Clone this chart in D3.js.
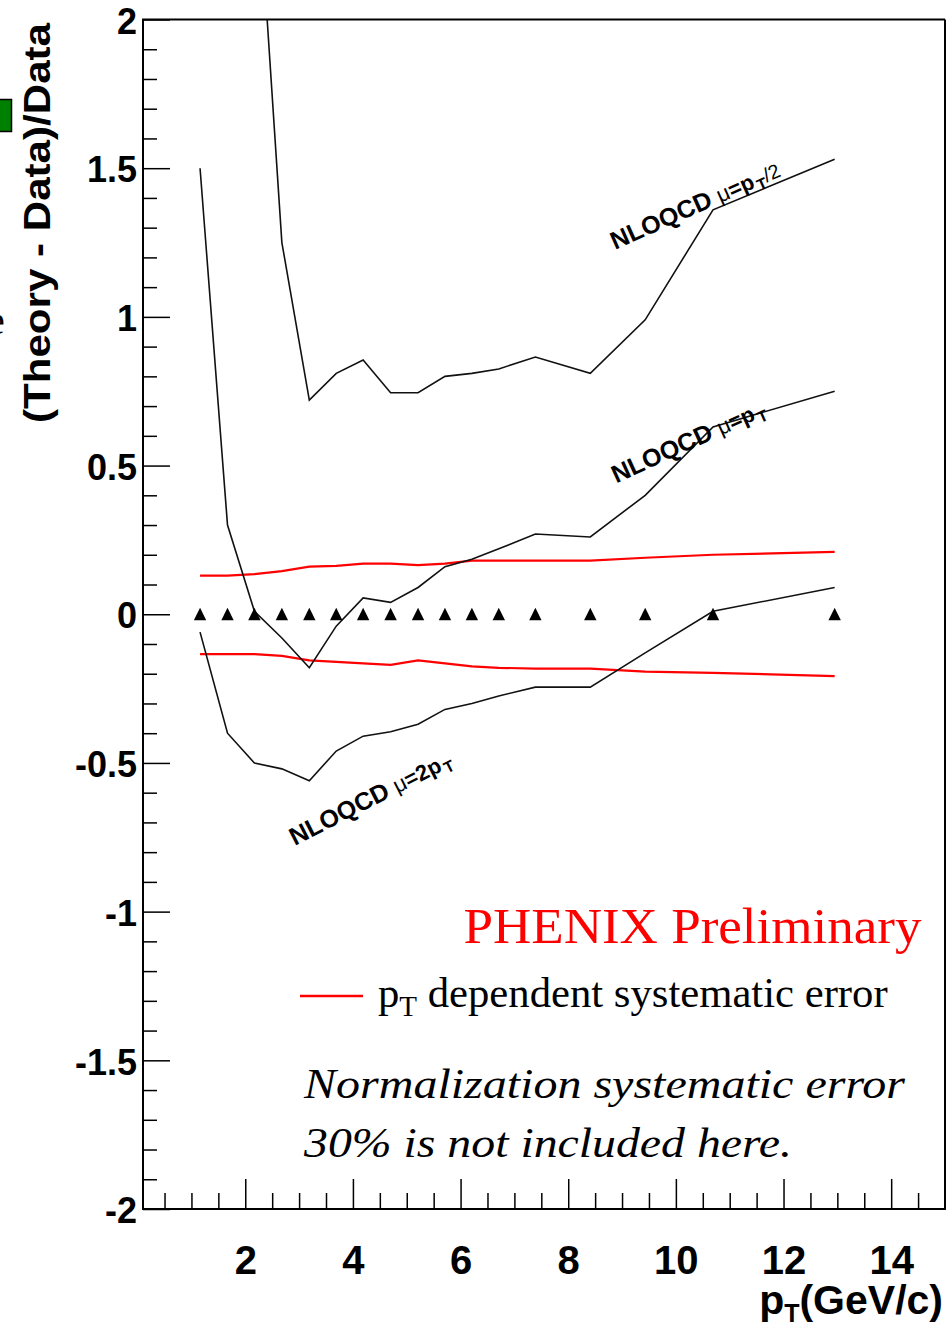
<!DOCTYPE html>
<html>
<head>
<meta charset="utf-8">
<script src="https://cdn.jsdelivr.net/npm/d3@7"></script>
<style>
  body { margin: 0; background: #fff; }
  svg { display: block; }
  .ax text { font-family: "Liberation Sans", Arial, sans-serif; font-weight: bold; fill: #000; }
</style>
</head>
<body>
<svg id="chart" width="946" height="1328"></svg>
<script>
// pT of the data points (GeV/c)
var ptVals = [1.16, 1.67, 2.17, 2.68, 3.19, 3.69, 4.19, 4.70, 5.21, 5.71, 6.21, 6.71, 7.39, 8.41, 9.43, 10.69, 12.95];
var dataVals = [0, 0, 0, 0, 0, 0, 0, 0, 0, 0, 0, 0, 0, 0, 0, 0, 0];

// NLO QCD curves, (theory - data)/data
var muHalfPt = ptVals.slice(2);
var muHalf = [2.65, 1.25, 0.72, 0.81, 0.855, 0.745, 0.745, 0.80, 0.81, 0.825, 0.865, 0.81, 0.99, 1.36, 1.53];
var muOne = [1.50, 0.30, 0.01, -0.08, -0.18, -0.04, 0.055, 0.04, 0.09, 0.16, 0.185, 0.22, 0.27, 0.26, 0.40, 0.63, 0.75];
var muTwo = [-0.06, -0.40, -0.50, -0.52, -0.56, -0.46, -0.41, -0.395, -0.37, -0.32, -0.30, -0.275, -0.245, -0.245, -0.13, 0.01, 0.09];

// pT dependent systematic error band
var sysUp = [0.13, 0.13, 0.135, 0.145, 0.16, 0.163, 0.17, 0.17, 0.165, 0.17, 0.18, 0.18, 0.18, 0.18, 0.19, 0.20, 0.21];
var sysLo = [-0.134, -0.134, -0.134, -0.14, -0.155, -0.16, -0.165, -0.17, -0.155, -0.165, -0.175, -0.18, -0.183, -0.183, -0.193, -0.197, -0.208];

var xMajor = [2, 4, 6, 8, 10, 12, 14];
var xMinor = d3.range(0.5, 15, 0.5).filter(function(v){ return v % 2 != 0; });
var yMajor = [-2, -1.5, -1, -0.5, 0, 0.5, 1, 1.5, 2];
var yMinor = d3.range(-19, 20).map(function(v){ return v / 10; }).filter(function(v){ return Math.abs(v * 2 - Math.round(v * 2)) > 1e-6; });

var svg = d3.select("#chart");

var x = d3.scaleLinear().domain([0.1, 15]).range([143, 945]);
var y = d3.scaleLinear().domain([-2, 2]).range([1209, 19.5]);

// cut off bits of the full figure on the left
svg.append("rect").attr("x", -2).attr("y", 99.5).attr("width", 13.5).attr("height", 32)
    .attr("fill", "#008000").attr("stroke", "#000").attr("stroke-width", 1.5)
svg.append("text").attr("x", -13).attr("y", 334)
    .style("font-family", "Liberation Serif").style("font-size", "40px").text("e")

svg.append("defs").append("clipPath").attr("id", "plotclip")
    .append("rect").attr("x", 143).attr("y", 19.5).attr("width", 802).attr("height", 1189.5)

// axes: majors with labels, minors without
var yAx = svg.append("g").attr("class", "ax").attr("transform", "translate(143,0)")
    .call(d3.axisLeft(y).tickValues(yMajor).tickSizeInner(-27).tickSizeOuter(0).tickPadding(6)
        .tickFormat(function(d){ return d3.format("")(d).replace("−", "-"); }))
yAx.select(".domain").remove()
yAx.selectAll("text").style("font-size", "36px").attr("dy", "0.38em")
svg.append("g").attr("class", "ax").attr("transform", "translate(143,0)")
    .call(d3.axisLeft(y).tickValues(yMinor).tickSizeInner(-14).tickSizeOuter(0).tickFormat(""))
    .select(".domain").remove()

var xAx = svg.append("g").attr("class", "ax").attr("transform", "translate(0,1209)")
    .call(d3.axisBottom(x).tickValues(xMajor).tickSizeInner(-30).tickSizeOuter(0).tickPadding(37))
xAx.select(".domain").remove()
xAx.selectAll("text").style("font-size", "40px")
svg.append("g").attr("class", "ax").attr("transform", "translate(0,1209)")
    .call(d3.axisBottom(x).tickValues(xMinor).tickSizeInner(-16).tickSizeOuter(0).tickFormat(""))
    .select(".domain").remove()
svg.selectAll(".ax line").attr("stroke", "#000").attr("stroke-width", 1.5)

// frame
svg.append("path")
    .attr("d", "M" + x(15) + "," + y(2) + "H" + x(0.1) + "V" + y(-2) + "H" + x(15) + "V" + y(2))
    .attr("fill", "none").attr("stroke", "#000").attr("stroke-width", 2)

// axis titles
var tt = svg.append("text").attr("text-anchor", "end")
    .attr("x", 943).attr("y", 1314)
    .style("font-family", "Liberation Sans").style("font-weight", "bold").style("font-size", "41px")
tt.append("tspan").text("p")
tt.append("tspan").attr("dy", 8).style("font-size", "25px").text("T")
tt.append("tspan").attr("dy", -8).text("(GeV/c)")

svg.append("text").attr("transform", "translate(50,223) rotate(-90)")
    .attr("text-anchor", "middle")
    .attr("textLength", 400).attr("lengthAdjust", "spacingAndGlyphs")
    .style("font-family", "Liberation Sans").style("font-weight", "bold").style("font-size", "36px")
    .text("(Theory - Data)/Data")

// curves
var plot = svg.append("g").attr("clip-path", "url(#plotclip)")
var line = d3.line().x(function(d){ return x(d[0]); }).y(function(d){ return y(d[1]); })

function zipPt(pts, vals) { return pts.map(function(p, i){ return [p, vals[i]]; }); }

plot.append("path").datum(zipPt(ptVals, sysUp)).attr("d", line)
    .attr("fill", "none").attr("stroke", "#ff0000").attr("stroke-width", 2.2)
plot.append("path").datum(zipPt(ptVals, sysLo)).attr("d", line)
    .attr("fill", "none").attr("stroke", "#ff0000").attr("stroke-width", 2.2)

var curves = [zipPt(muHalfPt, muHalf), zipPt(ptVals, muOne), zipPt(ptVals, muTwo)]
plot.selectAll(".nlo").data(curves).enter().append("path")
    .attr("class", "nlo").attr("d", line)
    .attr("fill", "none").attr("stroke", "#111").attr("stroke-width", 1.6)

// data points (triangles)
plot.selectAll(".pt").data(zipPt(ptVals, dataVals)).enter().append("path")
    .attr("class", "pt")
    .attr("d", "M0,-6.5L6.2,6L-6.2,6Z")
    .attr("transform", function(d){ return "translate(" + x(d[0]) + "," + y(d[1]) + ")"; })
    .attr("fill", "#000")

// curve labels
var labels = [
    {pt: 8.87, v: 1.225, ang: -24, mu: "=p", tail: "/2"},
    {pt: 8.89, v: 0.44, ang: -24.5, mu: "=p", tail: ""},
    {pt: 2.92, v: -0.779, ang: -27, mu: "=2p", tail: ""}
]
labels.forEach(function(l){
    var t = svg.append("text")
        .attr("transform", "translate(" + x(l.pt) + "," + y(l.v) + ") rotate(" + l.ang + ")")
        .style("font-family", "Liberation Sans").style("font-weight", "bold").style("font-size", "25px")
    t.append("tspan").text("NLOQCD ")
    t.append("tspan").style("font-weight", "normal").style("font-size", "22px").text("μ")
    t.append("tspan").style("font-size", "22px").text(l.mu)
    t.append("tspan").attr("dy", 5).attr("dx", 2).style("font-size", "16px").text("T")
    if (l.tail) t.append("tspan").attr("dy", -5).style("font-size", "20px").style("font-weight", "normal").text(l.tail)
})

// legend and notes
svg.append("text").attr("x", 463.5).attr("y", 943)
    .attr("textLength", 458).attr("lengthAdjust", "spacingAndGlyphs")
    .style("font-family", "Liberation Serif").style("font-size", "51px").attr("fill", "#ff0000")
    .text("PHENIX Preliminary")

svg.append("line").attr("x1", 300).attr("x2", 363).attr("y1", 996).attr("y2", 996)
    .attr("stroke", "#ff0000").attr("stroke-width", 2.5)
var lg = svg.append("text").attr("x", 378).attr("y", 1007)
    .style("font-family", "Liberation Serif").style("font-size", "42.7px")
lg.append("tspan").text("p")
lg.append("tspan").attr("dy", 9).style("font-size", "29px").text("T")
lg.append("tspan").attr("dy", -9).text(" dependent systematic error")

svg.append("text").attr("x", 304).attr("y", 1098)
    .attr("textLength", 601).attr("lengthAdjust", "spacingAndGlyphs")
    .style("font-family", "Liberation Serif").style("font-style", "italic").style("font-size", "43px")
    .text("Normalization systematic error")
svg.append("text").attr("x", 304).attr("y", 1157)
    .attr("textLength", 488).attr("lengthAdjust", "spacingAndGlyphs")
    .style("font-family", "Liberation Serif").style("font-style", "italic").style("font-size", "43px")
    .text("30% is not included here.")
</script>
</body>
</html>
